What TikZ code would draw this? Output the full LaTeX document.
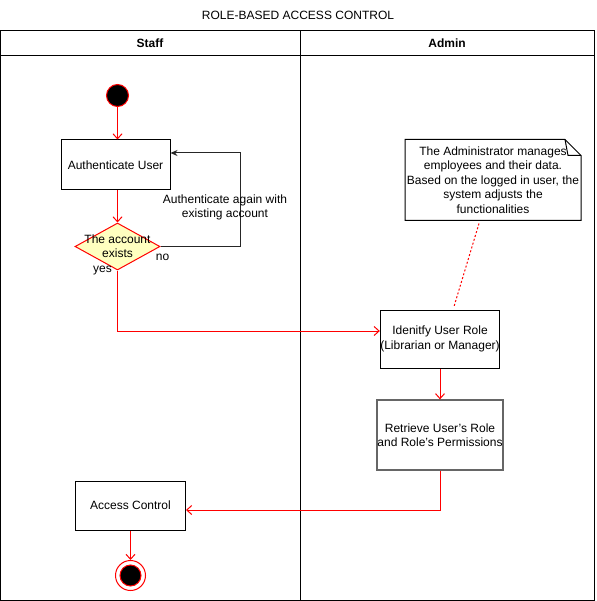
\documentclass[tikz,border=0pt]{standalone}
\usepackage{fontspec}
\setmainfont{Liberation Sans}
\usetikzlibrary{arrows.meta,shapes.geometric}

\begin{document}
\begin{tikzpicture}[x=1pt, y=-1pt, line width=1pt,
        font=\fontsize{12pt}{14.4pt}\selectfont,
        box/.style={draw, rectangle, inner sep=0pt, align=center},
        flow/.style={draw=red, -{Straight Barb[length=5pt,width=9pt]}},
        back/.style={draw=black!85, -{Stealth[length=7pt,width=6pt]}},
    ]
        \useasboundingbox (0, 0) rectangle (596, 601);
        \node (title) at (298, 15) {ROLE-BASED ACCESS CONTROL};
        \draw[-] (0.5, 31) rectangle (594.5, 600);
        \draw[-] (0.5, 56) -- (594.5, 56);
        \draw[-] (300, 31) -- (300, 600);
        \node (staff) at (150, 43.5) {\bfseries Staff};
        \node (admin) at (447, 43.5) {\bfseries Admin};
        \node (start) at (117.5, 95.5)[circle, fill=black, draw=red, minimum size=22pt, inner sep=0pt]{};
        \node (auth) at (115.5, 165)[box, minimum width=109pt, minimum height=50pt]{Authenticate User};
        \node (dec) at (117.5, 246.5)[diamond, draw=red, fill={rgb,255:red,255;green,255;blue,192}, minimum width=85pt, minimum height=47pt, inner sep=0pt]{};
        \node (dectext) at (dec.center)[align=center]{The account\\exists};
        \node (idr) at (440, 339)[box, minimum width=117pt, minimum height=58pt]{Idenitfy User Role\\(Librarian or Manager)};
        \node (ret) at (440, 435)[box, draw={rgb,255:red,102;green,102;blue,102}, line width=1.3pt, minimum width=126pt, minimum height=70pt]{Retrieve User{\char39}s Role\\and Role{\char39}s Permissions};
        \node (acc) at (130.5, 505.5)[box, minimum width=110pt, minimum height=49pt]{Access Control};
        \node (stop) at (130.5, 575.5)[circle, draw=red, fill=white, minimum size=30pt, inner sep=0pt]{};
        \node (stopdot) at (stop)[circle, fill=black, draw=red, minimum size=21pt, inner sep=0pt]{};
        \node (note) at (493, 180)[minimum width=175pt, minimum height=80pt, inner sep=0pt, align=center]{The Administrator manages\\employees and their data.\\Based on the logged in user, the\\system adjusts the\\functionalities};
        \draw[-] (note.north west) -- ([xshift=-16pt]note.north east) -- ([yshift=-16pt]note.north east) -- (note.south east) -- (note.south west) -- cycle;
        \draw[-] ([xshift=-16pt]note.north east) -- ++(3, 16) -- ([yshift=-16pt]note.north east);
        \draw[flow] (start) -- (start |- auth.north);
        \draw[flow] (dec.north |- auth.south) -- (dec.north);
        \draw[back] (dec.east) -- ++(80, 0) |- ([yshift=12pt]auth.east);
        \node (againlbl) at (225, 207.5)[align=center]{Authenticate again with\\existing account};
        \node (nolbl) at (162.5, 257){no};
        \node (yeslbl) at (102.5, 270.5){yes};
        \draw[flow] (dec.south) |- ([yshift=8pt]idr.west);
        \draw[flow] (idr) -- (ret);
        \draw[flow] (ret.south) |- ([yshift=-4.5pt]acc.east);
        \draw[flow] (acc) -- (stop);
        \draw[red, dash pattern=on 2pt off 2pt] ([xshift=-14pt, yshift=-3pt]note.south) -- ([xshift=14pt, yshift=3pt]idr.north);
    \end{tikzpicture}
\end{document}
